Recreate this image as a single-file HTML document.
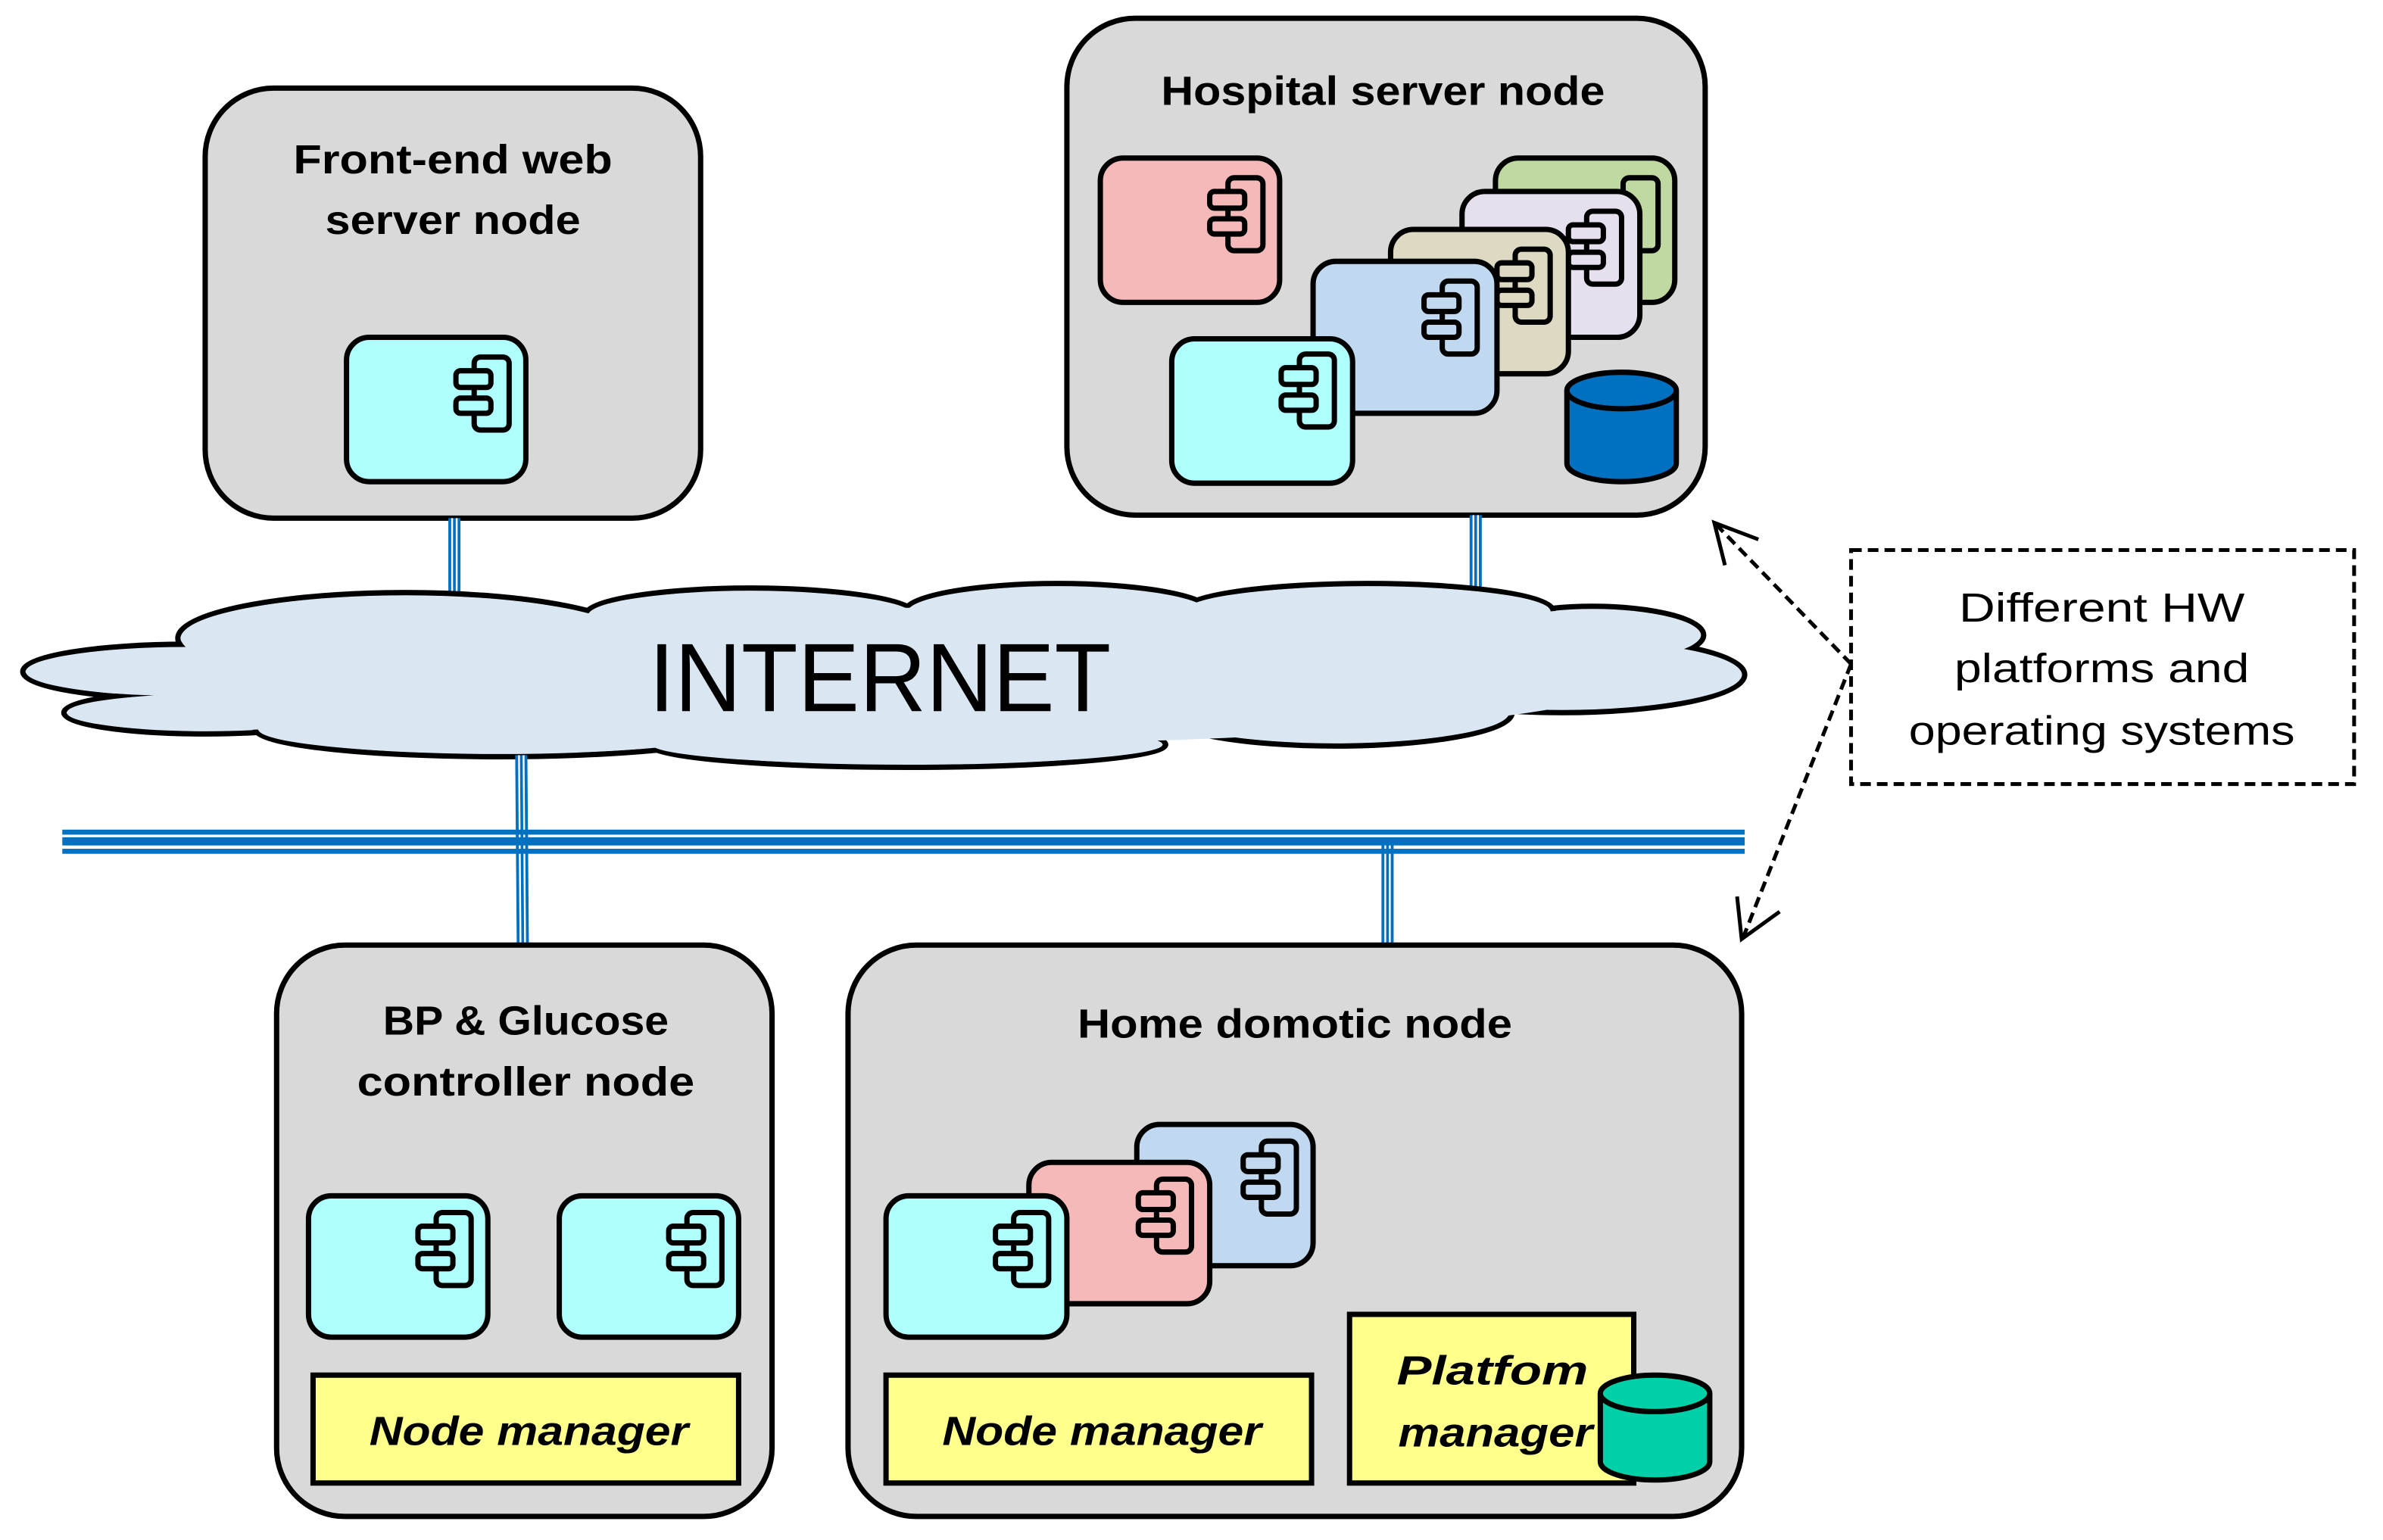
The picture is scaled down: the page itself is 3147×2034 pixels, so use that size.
<!DOCTYPE html>
<html><head><meta charset="utf-8"><style>
html,body{margin:0;padding:0;background:#fff;}
svg{display:block;}
.t{font-family:"Liberation Sans",sans-serif;font-weight:bold;font-size:27px;fill:#000;text-anchor:middle;}
.ti{font-family:"Liberation Sans",sans-serif;font-weight:bold;font-style:italic;font-size:27px;fill:#000;text-anchor:middle;}
.tr{font-family:"Liberation Sans",sans-serif;font-size:27px;fill:#000;text-anchor:middle;}
rect,path,ellipse{stroke-width:3.5;}
</style></head><body>
<svg width="3147" height="2034" viewBox="0 0 1568 1013.5" preserveAspectRatio="none" xmlns="http://www.w3.org/2000/svg">

<!-- Front-end node -->
<rect x="135" y="58" width="326" height="283" rx="45" fill="#d9d9d9" stroke="#000"/>
<text class="t" x="298" y="114" textLength="210" lengthAdjust="spacingAndGlyphs">Front-end web</text>
<text class="t" x="298" y="154" textLength="168" lengthAdjust="spacingAndGlyphs">server node</text>

<g transform="translate(228,222)">
<rect x="0" y="0" width="118" height="95" rx="15" fill="#afffff" stroke="#000"/>
<rect x="84" y="13" width="23" height="48" rx="4" fill="none" stroke="#000"/>
<rect x="72" y="22" width="23" height="11" rx="3" fill="#afffff" stroke="#000"/>
<rect x="72" y="40" width="23" height="10" rx="3" fill="#afffff" stroke="#000"/>
</g>

<!-- Hospital node -->
<rect x="702" y="12" width="420" height="327" rx="45" fill="#d9d9d9" stroke="#000"/>
<text class="t" x="910" y="69" textLength="292" lengthAdjust="spacingAndGlyphs">Hospital server node</text>

<g transform="translate(724,104)">
<rect width="118" height="95" rx="15" fill="#f4b9b8" stroke="#000"/>
<rect x="84" y="13" width="23" height="48" rx="4" fill="none" stroke="#000"/>
<rect x="72" y="22" width="23" height="11" rx="3" fill="#f4b9b8" stroke="#000"/>
<rect x="72" y="40" width="23" height="10" rx="3" fill="#f4b9b8" stroke="#000"/>
</g>
<g transform="translate(984,104)">
<rect width="118" height="95" rx="15" fill="#c0d9a0" stroke="#000"/>
<rect x="84" y="13" width="23" height="48" rx="4" fill="none" stroke="#000"/>
</g>
<g transform="translate(962,126)">
<rect width="117" height="96" rx="15" fill="#e6e0ee" stroke="#000"/>
<rect x="82" y="13" width="23" height="48" rx="4" fill="none" stroke="#000"/>
<rect x="70" y="22" width="23" height="11" rx="3" fill="#e6e0ee" stroke="#000"/>
<rect x="70" y="40" width="23" height="10" rx="3" fill="#e6e0ee" stroke="#000"/>
</g>
<g transform="translate(915,151)">
<rect width="117" height="95" rx="15" fill="#ddd9c3" stroke="#000"/>
<rect x="82" y="13" width="23" height="48" rx="4" fill="none" stroke="#000"/>
<rect x="70" y="22" width="23" height="11" rx="3" fill="#ddd9c3" stroke="#000"/>
<rect x="70" y="40" width="23" height="10" rx="3" fill="#ddd9c3" stroke="#000"/>
</g>
<g transform="translate(864,172)">
<rect width="121" height="100" rx="15" fill="#c0d9f1" stroke="#000"/>
<rect x="85" y="13" width="23" height="48" rx="4" fill="none" stroke="#000"/>
<rect x="73" y="22" width="23" height="11" rx="3" fill="#c0d9f1" stroke="#000"/>
<rect x="73" y="40" width="23" height="10" rx="3" fill="#c0d9f1" stroke="#000"/>
</g>
<g transform="translate(771,223)">
<rect width="119" height="95" rx="15" fill="#afffff" stroke="#000"/>
<rect x="84" y="10" width="23" height="48" rx="4" fill="none" stroke="#000"/>
<rect x="72" y="19" width="23" height="11" rx="3" fill="#afffff" stroke="#000"/>
<rect x="72" y="37" width="23" height="10" rx="3" fill="#afffff" stroke="#000"/>
</g>
<path d="M1031,257 L1031,305 A36,12 0 0 0 1103,305 L1103,257" fill="#0070c0" stroke="#000"/>
<ellipse cx="1067" cy="257" rx="36" ry="12" fill="#0070c0" stroke="#000"/>

<!-- vertical connectors -->
<line x1="299" y1="341" x2="299" y2="395" stroke="#0070c0" stroke-width="8"/>
<line x1="297.5" y1="341" x2="297.5" y2="395" stroke="#fff" stroke-width="1.2"/>
<line x1="300.5" y1="341" x2="300.5" y2="395" stroke="#fff" stroke-width="1.2"/>
<line x1="971" y1="339" x2="971" y2="392" stroke="#0070c0" stroke-width="8"/>
<line x1="969.5" y1="339" x2="969.5" y2="392" stroke="#fff" stroke-width="1.2"/>
<line x1="972.5" y1="339" x2="972.5" y2="392" stroke="#fff" stroke-width="1.2"/>

<!-- Cloud -->
<g fill="#dae6f2" stroke="#000" style="stroke-width:4.5">
<ellipse cx="267" cy="420" rx="150" ry="30"/>
<ellipse cx="122" cy="442" rx="107" ry="18"/>
<ellipse cx="135" cy="469" rx="93" ry="14"/>
<ellipse cx="328" cy="480" rx="160" ry="18"/>
<ellipse cx="597" cy="490" rx="170" ry="15"/>
<ellipse cx="879" cy="469" rx="116" ry="22"/>
<ellipse cx="1028" cy="444" rx="120" ry="25"/>
<ellipse cx="1048" cy="418" rx="73" ry="19"/>
<ellipse cx="900" cy="402" rx="122" ry="18"/>
<ellipse cx="696" cy="403" rx="101" ry="19"/>
<ellipse cx="494" cy="405" rx="109" ry="18"/>
</g>
<g fill="#dae6f2" stroke="none">
<ellipse cx="267" cy="420" rx="148" ry="28"/>
<ellipse cx="122" cy="442" rx="105" ry="16"/>
<ellipse cx="135" cy="469" rx="91" ry="12"/>
<ellipse cx="328" cy="480" rx="158" ry="16"/>
<ellipse cx="597" cy="490" rx="168" ry="13"/>
<ellipse cx="879" cy="469" rx="114" ry="20"/>
<ellipse cx="1028" cy="444" rx="118" ry="23"/>
<ellipse cx="1048" cy="418" rx="71" ry="17"/>
<ellipse cx="900" cy="402" rx="120" ry="16"/>
<ellipse cx="696" cy="403" rx="99" ry="17"/>
<ellipse cx="494" cy="405" rx="107" ry="16"/>
<ellipse cx="600" cy="445" rx="480" ry="45"/>
<ellipse cx="960" cy="428" rx="120" ry="26"/>
</g>
<text x="579" y="468" font-family="'Liberation Sans Narrow','Liberation Sans',sans-serif" font-size="64" text-anchor="middle" textLength="304" lengthAdjust="spacingAndGlyphs">INTERNET</text>

<!-- lower connectors -->
<line x1="343" y1="497" x2="344" y2="622" stroke="#0070c0" stroke-width="8"/>
<line x1="341.5" y1="497" x2="342.5" y2="622" stroke="#fff" stroke-width="1.2"/>
<line x1="344.5" y1="497" x2="345.5" y2="622" stroke="#fff" stroke-width="1.2"/>
<line x1="913" y1="555" x2="913" y2="622" stroke="#0070c0" stroke-width="8"/>
<line x1="911.5" y1="555" x2="911.5" y2="622" stroke="#fff" stroke-width="1.2"/>
<line x1="914.5" y1="555" x2="914.5" y2="622" stroke="#fff" stroke-width="1.2"/>
<rect x="41" y="546" width="1107" height="3.3" fill="#0070c0" style="stroke:none"/>
<rect x="41" y="551" width="1107" height="5.4" fill="#0070c0" style="stroke:none"/>
<rect x="41" y="558.6" width="1107" height="3.3" fill="#0070c0" style="stroke:none"/>

<!-- BP node -->
<rect x="182" y="622" width="326" height="376" rx="45" fill="#d9d9d9" stroke="#000"/>
<text class="t" x="346" y="681" textLength="188" lengthAdjust="spacingAndGlyphs">BP &amp; Glucose</text>
<text class="t" x="346" y="721" textLength="222" lengthAdjust="spacingAndGlyphs">controller node</text>
<g transform="translate(203,787)">
<rect width="118" height="93" rx="15" fill="#afffff" stroke="#000"/>
<rect x="84" y="11" width="23" height="48" rx="4" fill="none" stroke="#000"/>
<rect x="72" y="20" width="23" height="11" rx="3" fill="#afffff" stroke="#000"/>
<rect x="72" y="38" width="23" height="10" rx="3" fill="#afffff" stroke="#000"/>
</g>
<g transform="translate(368,787)">
<rect width="118" height="93" rx="15" fill="#afffff" stroke="#000"/>
<rect x="84" y="11" width="23" height="48" rx="4" fill="none" stroke="#000"/>
<rect x="72" y="20" width="23" height="11" rx="3" fill="#afffff" stroke="#000"/>
<rect x="72" y="38" width="23" height="10" rx="3" fill="#afffff" stroke="#000"/>
</g>
<rect x="206" y="905" width="280" height="71" fill="#ffff8c" stroke="#000"/>
<text class="ti" x="348" y="951" textLength="210" lengthAdjust="spacingAndGlyphs">Node manager</text>

<!-- Home node -->
<rect x="558" y="622" width="588" height="376" rx="45" fill="#d9d9d9" stroke="#000"/>
<text class="t" x="852" y="683" textLength="286" lengthAdjust="spacingAndGlyphs">Home domotic node</text>
<g transform="translate(748,740)">
<rect width="116" height="93" rx="15" fill="#c0d9f1" stroke="#000"/>
<rect x="82" y="11" width="23" height="48" rx="4" fill="none" stroke="#000"/>
<rect x="70" y="20" width="23" height="11" rx="3" fill="#c0d9f1" stroke="#000"/>
<rect x="70" y="38" width="23" height="10" rx="3" fill="#c0d9f1" stroke="#000"/>
</g>
<g transform="translate(677,765)">
<rect width="119" height="93" rx="15" fill="#f4b9b8" stroke="#000"/>
<rect x="84" y="11" width="23" height="48" rx="4" fill="none" stroke="#000"/>
<rect x="72" y="20" width="23" height="11" rx="3" fill="#f4b9b8" stroke="#000"/>
<rect x="72" y="38" width="23" height="10" rx="3" fill="#f4b9b8" stroke="#000"/>
</g>
<g transform="translate(583,787)">
<rect width="119" height="93" rx="15" fill="#afffff" stroke="#000"/>
<rect x="84" y="11" width="23" height="48" rx="4" fill="none" stroke="#000"/>
<rect x="72" y="20" width="23" height="11" rx="3" fill="#afffff" stroke="#000"/>
<rect x="72" y="38" width="23" height="10" rx="3" fill="#afffff" stroke="#000"/>
</g>
<rect x="583" y="905" width="280" height="71" fill="#ffff8c" stroke="#000"/>
<text class="ti" x="725" y="951" textLength="210" lengthAdjust="spacingAndGlyphs">Node manager</text>
<rect x="888" y="865" width="187" height="111" fill="#ffff8c" stroke="#000"/>
<text class="ti" x="982" y="911" textLength="126" lengthAdjust="spacingAndGlyphs">Platfom</text>
<text class="ti" x="984" y="952" textLength="128" lengthAdjust="spacingAndGlyphs">manager</text>
<path d="M1053,917 L1053,962 A36,12 0 0 0 1125,962 L1125,917" fill="#00d0a8" stroke="#000"/>
<ellipse cx="1089" cy="917" rx="36" ry="12" fill="#00d0a8" stroke="#000"/>

<!-- Dashed box & arrows -->
<rect x="1218" y="362" width="331" height="154" fill="#fff" stroke="#000" style="stroke-width:2.5" stroke-dasharray="7,4"/>
<text class="tr" x="1383" y="409" textLength="188" lengthAdjust="spacingAndGlyphs">Different HW</text>
<text class="tr" x="1383" y="449" textLength="194" lengthAdjust="spacingAndGlyphs">platforms and</text>
<text class="tr" x="1383" y="490" textLength="254" lengthAdjust="spacingAndGlyphs">operating systems</text>
<g stroke="#000" stroke-width="2.5" fill="none">
<line x1="1218" y1="437" x2="1130" y2="346" stroke-dasharray="7,4"/>
<line x1="1218" y1="437" x2="1147" y2="617" stroke-dasharray="7,4"/>
<polyline points="1135,372 1128,344 1157,355"/>
<polyline points="1143,590 1146,618 1171,600"/>
</g>
</svg>
</body></html>
